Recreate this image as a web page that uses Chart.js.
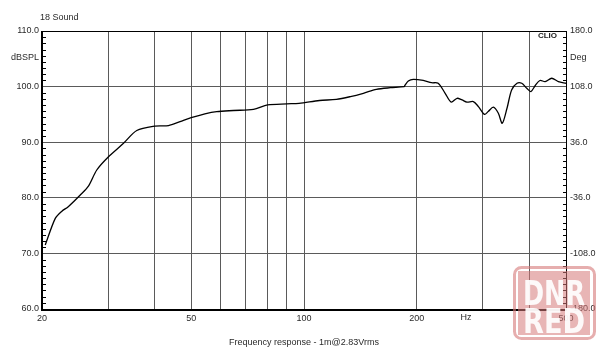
<!DOCTYPE html>
<html>
<head>
<meta charset="utf-8">
<script src="https://cdn.jsdelivr.net/npm/chart.js@4.4.0/dist/chart.umd.min.js"></script>
<style>
html,body{margin:0;padding:0;background:#fff;}
#wrap{position:relative;width:606px;height:357px;}
</style>
</head>
<body>
<div id="wrap"><canvas id="c" width="606" height="357"></canvas></div>
<script>
// ---- data ----
const freqHz = [20.4,21.7,22.6,23.5,25.3,26.6,28.0,30.0,33.0,35.8,40.0,43.5,46.7,50,54.4,58.5,64.8,73.3,80,90,97,110,122,133,144,156,170,185,185.8,189.8,195.7,208,219,228,238,247,256,264,272,283,292,303,310,320,330,338,348,358,370,381,393,403,414,426,440,458,477,500];
const splDb = [71.5,76.3,77.6,78.4,80.5,82.1,85.0,87.3,89.8,92.1,92.9,93.0,93.7,94.4,95.1,95.5,95.7,95.9,96.7,96.9,97.0,97.5,97.7,98.2,98.8,99.5,99.8,100.0,100.2,101.0,101.3,101.1,100.7,100.6,98.8,97.2,97.9,97.6,97.2,97.3,96.4,95.0,95.5,96.3,95.2,93.4,96.1,99.4,100.6,100.6,99.7,99.1,100.2,101.1,100.9,101.5,100.9,100.6];
const xGridHz = [20,30,40,50,60,70,80,90,100,200,300,400,500];
const xLabelHz = [20,50,100,200,500];
const yLeftTicks = [60,70,80,90,100,110];
const yLeftLabels = ["60.0","70.0","80.0","90.0","100.0","110.0"];
const yRightTicks = [-180,-108,-36,36,108,180];
const yRightLabels = ["-180.0","-108.0","-36.0","36.0","108.0","180.0"];
const titleText = "18 Sound";
const captionText = "Frequency response - 1m@2.83Vrms";
const brandText = "CLIO";
const leftUnit = "dBSPL";
const rightUnit = "Deg";
const xUnit = "Hz";

const FONT = '"Liberation Sans", Arial, sans-serif';
const TXT = '#2a2a2a';
const GRID = '#5a5a5a';

const points = freqHz.map((f,i)=>({x:f,y:splDb[i]}));

const decor = {
  id:'decor',
  afterDraw(chart){
    const ctx = chart.ctx, a = chart.chartArea;
    const y = chart.scales.y, y2 = chart.scales.y2;
    ctx.save();
    // frame
    ctx.strokeStyle = '#000';
    ctx.lineWidth = 1;
    ctx.beginPath();
    ctx.moveTo(a.left, a.top+0.5); ctx.lineTo(a.right, a.top+0.5);
    ctx.moveTo(a.right+0.5, a.top); ctx.lineTo(a.right+0.5, a.bottom);
    ctx.stroke();
    ctx.lineWidth = 2;
    ctx.beginPath();
    ctx.moveTo(a.left, a.top); ctx.lineTo(a.left, a.bottom+1);
    ctx.lineTo(a.right+1, a.bottom+1);
    ctx.stroke();
    // minor ticks
    ctx.lineWidth = 1;
    ctx.beginPath();
    for (let i=0;i<yLeftTicks.length-1;i++){
      const v0=yLeftTicks[i], v1=yLeftTicks[i+1];
      for (let k=1;k<9;k++){
        const py = Math.round(y.getPixelForValue(v0+(v1-v0)*k/9))+0.5;
        ctx.moveTo(a.left, py); ctx.lineTo(a.left+4, py);
      }
    }
    for (let i=0;i<yRightTicks.length-1;i++){
      const v0=yRightTicks[i], v1=yRightTicks[i+1];
      for (let k=1;k<9;k++){
        const py = Math.round(y2.getPixelForValue(v0+(v1-v0)*k/9))+0.5;
        ctx.moveTo(a.right, py); ctx.lineTo(a.right-3, py);
      }
    }
    ctx.stroke();
    // texts
    ctx.fillStyle = TXT;
    ctx.font = '9px '+FONT;
    ctx.textBaseline = 'middle';
    ctx.textAlign = 'left';
    ctx.fillText(titleText, 40, 18);
    ctx.textAlign = 'right';
    ctx.fillText(leftUnit, a.left-3, 58);
    ctx.textAlign = 'left';
    ctx.fillText(rightUnit, a.right+4, 58);
    ctx.textAlign = 'center';
    ctx.fillText(xUnit, 466, 318);
    ctx.fillText(captionText, 304, 343);
    ctx.font = 'bold 8px '+FONT;
    ctx.fillStyle = '#222';
    ctx.textAlign = 'right';
    ctx.fillText(brandText, 557, 36);
    // watermark
    ctx.strokeStyle = 'rgba(214,120,120,0.6)';
    ctx.lineWidth = 3;
    ctx.beginPath();
    ctx.roundRect(514.5, 267.5, 80, 71, 7);
    ctx.stroke();
    ctx.fillStyle = 'rgba(214,120,120,0.55)';
    ctx.fillRect(518, 271, 72, 64);
    ctx.fillStyle = 'rgba(255,255,255,0.92)';
    ctx.font = 'bold 34px "Liberation Sans Narrow","DejaVu Sans Condensed","Liberation Sans",sans-serif';
    ctx.textAlign = 'left';
    ctx.textBaseline = 'alphabetic';
    [['DNR',305],['RED',333]].forEach(([t,by])=>{
      const w = ctx.measureText(t).width;
      ctx.save();
      ctx.translate(523, by);
      ctx.scale(62/w, 1);
      ctx.fillText(t, 0, 0);
      ctx.restore();
    });
    ctx.restore();
  }
};

new Chart(document.getElementById('c'), {
  type:'scatter',
  data:{datasets:[{
    data:points, showLine:true, borderColor:'#000', borderWidth:1.3,
    pointRadius:0, tension:0.3, fill:false, yAxisID:'y'
  }]},
  options:{
    responsive:false, animation:false, devicePixelRatio:1,
    layout:{padding:{top:31,left:0,right:0,bottom:0}},
    plugins:{legend:{display:false}, tooltip:{enabled:false}},
    scales:{
      x:{
        type:'logarithmic', min:20, max:500, position:'bottom',
        afterBuildTicks(s){ s.ticks = xGridHz.map(v=>({value:v})); },
        afterFit(s){ s.height = 48; },
        border:{display:false},
        grid:{color:GRID, lineWidth:1, drawTicks:false},
        ticks:{autoSkip:false, maxRotation:0, padding:4, color:TXT, font:{family:FONT,size:9},
          callback:(v)=> xLabelHz.includes(v) ? String(v) : ''}
      },
      y:{
        type:'linear', min:60, max:110, position:'left',
        afterBuildTicks(s){ s.ticks = yLeftTicks.map(v=>({value:v})); },
        afterFit(s){ s.width = 42; },
        border:{display:false},
        grid:{color:GRID, lineWidth:1, drawTicks:false},
        ticks:{padding:3, color:TXT, font:{family:FONT,size:9},
          callback:(v)=>{ const i = yLeftTicks.indexOf(Number(v)); return i>=0 ? yLeftLabels[i] : ''; }}
      },
      y2:{
        type:'linear', min:-180, max:180, position:'right', display:true,
        afterBuildTicks(s){ s.ticks = yRightTicks.map(v=>({value:v})); },
        afterFit(s){ s.width = 40; },
        border:{display:false},
        grid:{display:false, drawTicks:false},
        ticks:{padding:4, color:TXT, font:{family:FONT,size:9},
          callback:(v)=>{ const i = yRightTicks.indexOf(Number(v)); return i>=0 ? yRightLabels[i] : ''; }}
      }
    }
  },
  plugins:[decor]
});
</script>
</body>
</html>
